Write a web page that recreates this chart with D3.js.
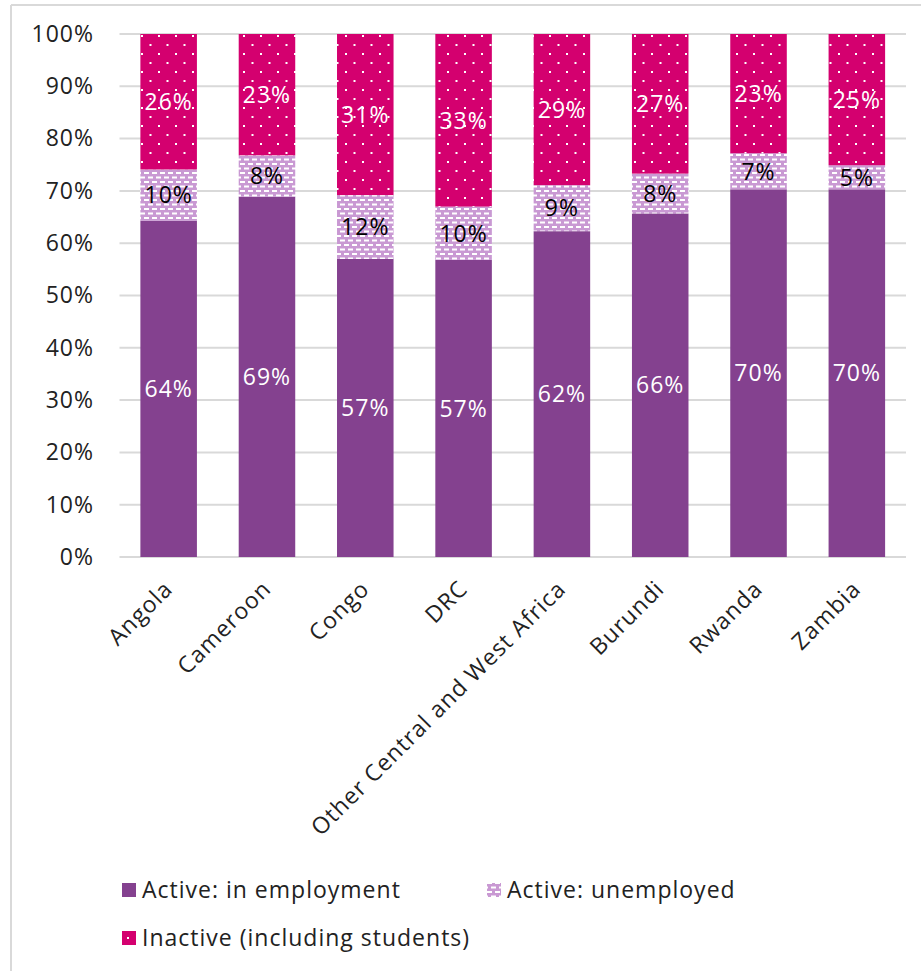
<!DOCTYPE html>
<html>
<head>
<meta charset="utf-8">
<script src="https://cdn.jsdelivr.net/npm/d3@7"></script>
<style>
  html, body { margin: 0; padding: 0; background: #fff; }
  svg { display: block; font-family: "Open Sans", "Noto Sans", sans-serif; }
  text { letter-spacing: 1px; }
</style>
</head>
<body>
<svg id="chart" width="921" height="971"></svg>
<script>
// Labour-force status shares by country (%)
const categories = ["Angola", "Cameroon", "Congo", "DRC", "Other Central and West Africa", "Burundi", "Rwanda", "Zambia"];
const employed   = [64.3, 68.9, 57.0, 56.8, 62.3, 65.7, 70.3, 70.3];
const unemployed = [9.8, 7.9, 12.2, 10.2, 8.8, 7.6, 6.9, 4.6];
const inactive   = [25.9, 23.2, 30.8, 33.0, 28.9, 26.7, 22.8, 25.1];
const seriesNames = ["Active: in employment", "Active: unemployed", "Inactive (including students)"];
const yTicks = [0, 10, 20, 30, 40, 50, 60, 70, 80, 90, 100];

const svg = d3.select("#chart");
const W = 921, H = 971;
const margin = { left: 119.5, right: 15, top: 34, bottom: 414 };
const fontSize = 23;

// Chart frame
svg.append("line").attr("x1", 11).attr("x2", 11).attr("y1", 5).attr("y2", H)
  .attr("stroke", "#d9d9d9").attr("stroke-width", 2);
svg.append("line").attr("x1", 11).attr("x2", W).attr("y1", 5).attr("y2", 5)
  .attr("stroke", "#d9d9d9").attr("stroke-width", 2);

// Fill patterns
const defs = svg.append("defs");
const dash = defs.append("pattern").attr("id", "pUnemp")
  .attr("patternUnits", "userSpaceOnUse").attr("width", 8).attr("height", 9);
dash.append("rect").attr("width", 8).attr("height", 9).attr("fill", "#c999d3");
dash.append("rect").attr("x", 0).attr("y", 1).attr("width", 5).attr("height", 2).attr("fill", "#fff");
dash.append("rect").attr("x", 4).attr("y", 5.5).attr("width", 4).attr("height", 2).attr("fill", "#fff");
dash.append("rect").attr("x", 0).attr("y", 5.5).attr("width", 1).attr("height", 2).attr("fill", "#fff");

const dots = defs.append("pattern").attr("id", "pInact")
  .attr("patternUnits", "userSpaceOnUse").attr("width", 17).attr("height", 18)
  .attr("x", 141).attr("y", 35);
dots.append("rect").attr("width", 17).attr("height", 18).attr("fill", "#d4006f");
dots.append("rect").attr("x", 0).attr("y", 0).attr("width", 2).attr("height", 2).attr("fill", "#fff");
dots.append("rect").attr("x", 8.5).attr("y", 9).attr("width", 2).attr("height", 2).attr("fill", "#fff");

const fills = ["#84418f", "url(#pUnemp)", "url(#pInact)"];
const labelColors = ["#fff", "#000", "#fff"];

const x = d3.scaleBand().domain(categories)
  .range([margin.left, W - margin.right]).paddingInner(0.425).paddingOuter(0.2125);
const y = d3.scaleLinear().domain([0, 100]).range([H - margin.bottom, margin.top]);

// Gridlines
svg.append("g").selectAll("line").data(yTicks).join("line")
  .attr("x1", margin.left).attr("x2", W - margin.right)
  .attr("y1", d => y(d)).attr("y2", d => y(d))
  .attr("stroke", "#d9d9d9").attr("stroke-width", 2);

// Y axis labels
const yAxis = d3.axisLeft(y).tickValues(yTicks).tickFormat(d => d + "%").tickSize(0).tickPadding(0);
const gy = svg.append("g").attr("transform", "translate(94,0)").call(yAxis);
gy.select(".domain").remove();
gy.selectAll("text").attr("font-size", fontSize).attr("fill", "#222").attr("font-family", "'Open Sans', sans-serif");

// Stack
const rows = categories.map((c, i) => ({ cat: c, s0: employed[i], s1: unemployed[i], s2: inactive[i] }));
const stacked = d3.stack().keys(["s0", "s1", "s2"])(rows);

stacked.forEach((layer, k) => {
  const g = svg.append("g");
  g.selectAll("rect").data(layer).join("rect")
    .attr("x", d => x(d.data.cat))
    .attr("width", x.bandwidth())
    .attr("y", d => y(d[1]))
    .attr("height", d => y(d[0]) - y(d[1]))
    .attr("fill", fills[k]);
  g.selectAll("text").data(layer).join("text")
    .attr("x", d => x(d.data.cat) + x.bandwidth() / 2)
    .attr("y", d => y((d[0] + d[1]) / 2))
    .attr("dy", "0.36em")
    .attr("text-anchor", "middle")
    .attr("font-size", fontSize)
    .attr("fill", labelColors[k])
    .text(d => Math.round(d[1] - d[0]) + "%");
});

// Category labels, rotated
svg.append("g").selectAll("text").data(categories).join("text")
  .attr("transform", d => `translate(${x(d) + x.bandwidth() / 2 - 6},${H - margin.bottom + 22}) rotate(-45)`)
  .attr("text-anchor", "end")
  .attr("dy", "0.7em")
  .attr("font-size", fontSize)
  .attr("fill", "#222")
  .text(d => d);

// Legend
const legendPos = [[122, 890], [487, 890], [122, 938]];
const lg = svg.append("g").selectAll("g").data(seriesNames).join("g")
  .attr("transform", (d, i) => `translate(${legendPos[i][0]},${legendPos[i][1]})`);
lg.append("rect").attr("x", 0).attr("y", -7).attr("width", 14).attr("height", 14)
  .attr("fill", (d, i) => fills[i]);
lg.append("text").attr("x", 20).attr("dy", "0.36em").attr("font-size", fontSize).attr("fill", "#222").text(d => d);
</script>
</body>
</html>
